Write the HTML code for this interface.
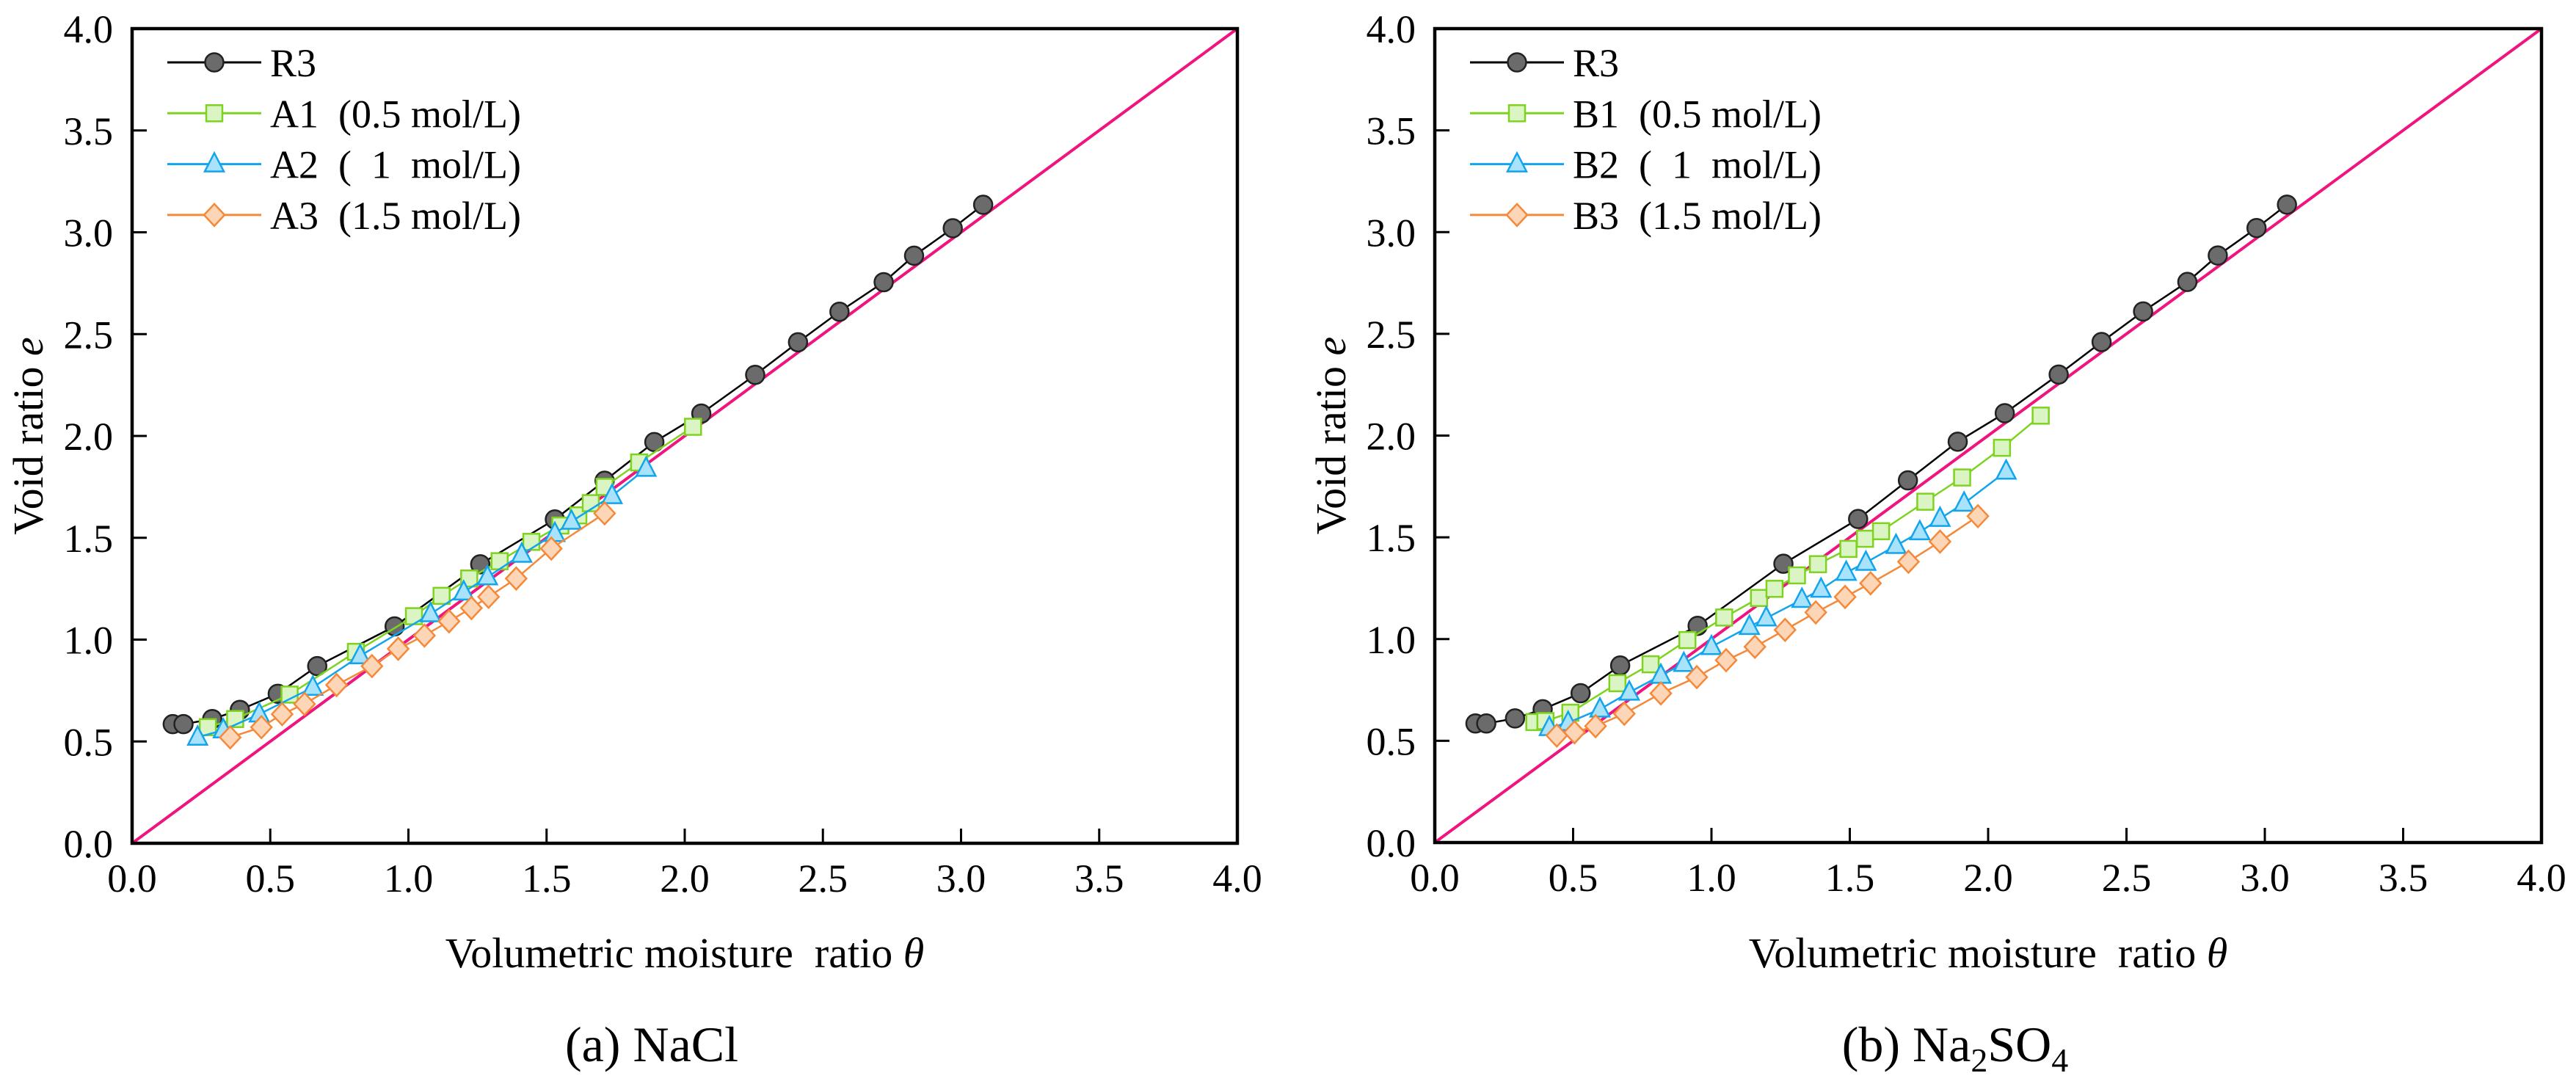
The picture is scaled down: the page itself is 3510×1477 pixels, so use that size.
<!DOCTYPE html>
<html><head><meta charset="utf-8"><style>
html,body{margin:0;padding:0;background:#fff;}
svg{display:block;font-family:"Liberation Serif",serif;}
svg text{font-family:"Liberation Serif",serif;}
</style></head><body>
<svg id="fig" width="3510" height="1477" viewBox="0 0 3510 1477" xmlns="http://www.w3.org/2000/svg" font-family="Liberation Serif, serif"></svg>
<script>
// ---- data ----
const r3X=[0.147,0.186,0.29,0.39,0.527,0.67,0.95,1.26,1.53,1.71,1.89,2.06,2.255,2.41,2.56,2.72,2.83,2.97,3.08];
const r3Y=[0.585,0.585,0.61,0.655,0.734,0.87,1.065,1.37,1.59,1.78,1.97,2.11,2.30,2.46,2.61,2.755,2.885,3.02,3.135];
const a1X=[0.274,0.373,0.57,0.81,1.02,1.12,1.22,1.33,1.445,1.55,1.615,1.66,1.71,1.835,2.03];
const a1Y=[0.57,0.61,0.73,0.94,1.115,1.215,1.30,1.385,1.48,1.56,1.61,1.67,1.75,1.87,2.045];
const a2X=[0.237,0.33,0.46,0.654,0.825,1.08,1.2,1.286,1.41,1.53,1.59,1.737,1.86];
const a2Y=[0.52,0.556,0.634,0.765,0.92,1.126,1.233,1.307,1.418,1.52,1.58,1.706,1.84];
const a3X=[0.355,0.468,0.543,0.624,0.74,0.868,0.963,1.058,1.147,1.228,1.29,1.39,1.517,1.71];
const a3Y=[0.52,0.57,0.634,0.684,0.777,0.87,0.955,1.02,1.09,1.155,1.21,1.30,1.447,1.62];
const b1X=[0.36,0.40,0.49,0.66,0.78,0.913,1.046,1.172,1.228,1.309,1.385,1.495,1.555,1.613,1.773,1.906,2.05,2.19];
const b1Y=[0.592,0.597,0.638,0.783,0.876,0.995,1.106,1.202,1.247,1.313,1.368,1.443,1.493,1.53,1.675,1.794,1.94,2.098];
const b2X=[0.414,0.482,0.597,0.703,0.817,0.90,1.0,1.137,1.198,1.327,1.396,1.487,1.558,1.667,1.753,1.826,1.913,2.065];
const b2Y=[0.564,0.589,0.655,0.738,0.821,0.879,0.962,1.061,1.103,1.194,1.244,1.327,1.376,1.459,1.526,1.592,1.667,1.824];
const b3X=[0.441,0.505,0.581,0.685,0.817,0.947,1.053,1.157,1.266,1.377,1.483,1.575,1.712,1.826,1.963];
const b3Y=[0.526,0.542,0.572,0.633,0.733,0.813,0.896,0.962,1.045,1.131,1.207,1.274,1.38,1.479,1.604];
const tickVals=[0,0.5,1,1.5,2,2.5,3,3.5,4];
const tickLabels=["0.0","0.5","1.0","1.5","2.0","2.5","3.0","3.5","4.0"];
const legendA=["R3","A1  (0.5 mol/L)","A2  (  1  mol/L)","A3  (1.5 mol/L)"];
const legendB=["R3","B1  (0.5 mol/L)","B2  (  1  mol/L)","B3  (1.5 mol/L)"];

const NS="http://www.w3.org/2000/svg";
const svg=document.getElementById('fig');
const FF='Liberation Serif, serif';
function mk(tag,attrs,parent){const e=document.createElementNS(NS,tag);for(const k in attrs)e.setAttribute(k,attrs[k]);if(tag==='text')e.setAttribute('font-family',FF);(parent||svg).appendChild(e);return e;}

const styles=[
 {stroke:"#000",fill:"#6b6b6b",mstroke:"#222",shape:"circle"},
 {stroke:"#7ed321",fill:"#daf5c3",mstroke:"#7ed321",shape:"square"},
 {stroke:"#12a4ec",fill:"#a9e2fb",mstroke:"#12a4ec",shape:"triangle"},
 {stroke:"#f5893a",fill:"#fdd6b8",mstroke:"#f5893a",shape:"diamond"}];

function marker(g,shape,cx,cy,st){
  let e;
  if(shape==="circle")e=mk('circle',{cx:cx,cy:cy,r:12.5,fill:st.fill,stroke:st.mstroke,'stroke-width':2.5},g);
  else if(shape==="square")e=mk('rect',{x:cx-11,y:cy-11,width:22,height:22,fill:st.fill,stroke:st.mstroke,'stroke-width':2.5},g);
  else if(shape==="triangle")e=mk('polygon',{points:`${cx},${cy-15} ${cx+13},${cy+10} ${cx-13},${cy+10}`,fill:st.fill,stroke:st.mstroke,'stroke-width':2.5},g);
  else e=mk('polygon',{points:`${cx},${cy-15} ${cx+14},${cy} ${cx},${cy+15} ${cx-14},${cy}`,fill:st.fill,stroke:st.mstroke,'stroke-width':2.5},g);
  return e;
}

function panel(id,x0,x1,y0,y1,series,legend,caption){
  const sx=v=>x0+(x1-x0)*v/4, sy=v=>y0-(y0-y1)*v/4;
  const g=mk('g',{});
  
  
  const d=mk('line',{x1:sx(0),y1:sy(0),x2:sx(4),y2:sy(4),stroke:"#f0147f",'stroke-width':4},g);
  
  
  series.forEach((s,i)=>{
    const st=styles[i];
    const sg=mk('g',{},g);
    
    
    const pts=s[0].map((v,k)=>sx(v)+','+sy(s[1][k])).join(' ');
    mk('polyline',{points:pts,fill:'none',stroke:st.stroke,'stroke-width':2.5},sg);
    s[0].forEach((v,k)=>{
      const m=marker(sg,st.shape,sx(v),sy(s[1][k]),st);
      
      
    });
  });
  const fr=mk('rect',{x:x0,y:y1,width:x1-x0,height:y0-y1,fill:'none',stroke:'#000','stroke-width':4.5},g);
  
  
  tickVals.forEach((v,k)=>{
    mk('line',{x1:sx(v),y1:y0,x2:sx(v),y2:y0-20,stroke:'#000','stroke-width':3},g);
    mk('line',{x1:x0,y1:sy(v),x2:x0+20,y2:sy(v),stroke:'#000','stroke-width':3},g);
    const tx=mk('text',{x:sx(v),y:y0+66,'font-size':54,'text-anchor':'middle'},g);
    tx.textContent=tickLabels[k];
    
    
    const ty=mk('text',{x:x0-26,y:sy(v)+19,'font-size':54,'text-anchor':'end'},g);
    ty.textContent=tickLabels[k];
    
    
  });
  const xt=mk('text',{x:(x0+x1)/2,y:1318,'font-size':58,'text-anchor':'middle'},g);
  xt.innerHTML='Volumetric moisture  ratio <tspan font-style="italic">θ</tspan>';
  xt.setAttribute('style','white-space:pre');
  
  
  const yt=mk('text',{x:0,y:0,'font-size':58,'text-anchor':'middle',transform:`translate(${x0-122},${(y0+y1)/2}) rotate(-90)`},g);
  yt.innerHTML='Void ratio <tspan font-style="italic">e</tspan>';
  
  
  const lg=mk('g',{},g);
  
  
  legend.forEach((t,i)=>{
    const ly=85+i*69.3, lx=x0+48;
    const eg=mk('g',{},lg);
    
    
    mk('line',{x1:lx,y1:ly,x2:lx+128,y2:ly,stroke:styles[i].stroke,'stroke-width':3},eg);
    marker(eg,styles[i].shape,lx+64,ly,styles[i]);
    const tt=mk('text',{x:lx+140,y:ly+19,'font-size':54},eg);
    tt.setAttribute('style','white-space:pre');
    tt.textContent=t;
  });
  const cp=mk('text',{x:(x0+x1)/2-45,y:1446,'font-size':68,'text-anchor':'middle'},g);
  cp.innerHTML=caption;
  
  
}

panel('nacl',180,1686,1149,39,[[r3X,r3Y],[a1X,a1Y],[a2X,a2Y],[a3X,a3Y]],legendA,'(a) NaCl');
panel('na2so4',1955,3463,1148,39,[[r3X,r3Y],[b1X,b1Y],[b2X,b2Y],[b3X,b3Y]],legendB,'(b) Na<tspan font-size="46" dy="14">2</tspan><tspan dy="-14">SO</tspan><tspan font-size="46" dy="14">4</tspan>');
</script>
</body></html>
